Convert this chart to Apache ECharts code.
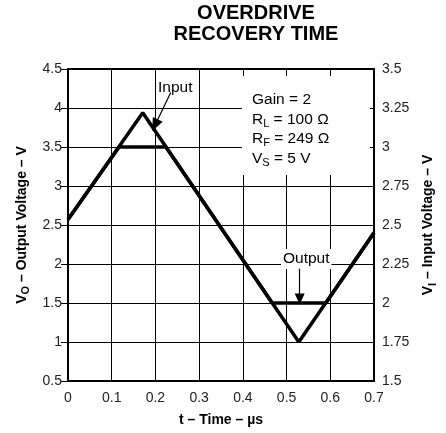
<!DOCTYPE html>
<html>
<head>
<meta charset="utf-8">
<script src="https://cdn.jsdelivr.net/npm/echarts@6/dist/echarts.min.js"></script>
<style>
  html, body { margin: 0; padding: 0; background: #fff; }
  #chart { width: 446px; height: 433px; }
</style>
</head>
<body>
<div id="chart"></div>
<script>
// data
var timeTicks = [0, 0.1, 0.2, 0.3, 0.4, 0.5, 0.6, 0.7];
// output voltage (left axis, V) vs time (us)
var outputT = [0, 0.117, 0.224, 0.467, 0.59, 0.7];
var outputV = [2.57, 3.5, 3.5, 1.5, 1.5, 2.4];
// input voltage (right axis, V) vs time (us)
var inputT = [0, 0.171, 0.528, 0.7];
var inputV = [2.535, 3.22, 1.75, 2.45];

var font = "Liberation Sans, Arial, sans-serif";

function pairs(xs, ys) {
  return xs.map(function (x, i) { return [x, ys[i]]; });
}

// rich styles for subscripts
var subRich = {
  b: { fontWeight: "bold", fontSize: 14, fontFamily: font, color: "#000" },
  s: { fontWeight: "bold", fontSize: 11, fontFamily: font, color: "#000", padding: [8, 0, 0, 0] }
};
var plainRich = {
  n: { fontSize: 15.5, fontFamily: font, color: "#000", lineHeight: 19.5 },
  s: { fontSize: 11, fontFamily: font, color: "#000", padding: [8, 0, 0, 0], lineHeight: 19.5 }
};

var myChart = echarts.init(document.getElementById("chart"));
var option = {
  animation: false,
  backgroundColor: "#fff",
  grid: { left: 68, right: 68, top: 69, bottom: 52, show: true, borderColor: "#000", borderWidth: 2 },
  xAxis: [
    {
      // labels, name, bottom ticks
      type: "value", min: 0, max: 0.7, interval: 0.1, position: "bottom", z: 4,
      name: "t – Time – µs", nameLocation: "middle", nameGap: 32,
      nameTextStyle: { fontWeight: "bold", fontSize: 14, fontFamily: font, color: "#000" },
      axisLine: { show: true, lineStyle: { color: "#000", width: 2 } },
      axisTick: { show: true, inside: true, length: 7, lineStyle: { color: "#000" } },
      axisLabel: { fontSize: 14, fontFamily: font, color: "#222", margin: 10,
        formatter: function (v) { var r = Math.round(v * 10) / 10; return timeTicks.indexOf(r) >= 0 ? String(r) : ""; } },
      splitLine: { show: false }
    },
    {
      // top ticks
      type: "value", min: 0, max: 0.7, interval: 0.1, position: "top", z: 4,
      axisLine: { show: true, lineStyle: { color: "#000", width: 2 } },
      axisTick: { show: true, inside: true, length: 7, lineStyle: { color: "#000" } },
      axisLabel: { show: false },
      splitLine: { show: false }
    },
    {
      // grid lines only
      type: "value", min: 0, max: 0.7, interval: 0.1, position: "bottom", z: 0,
      axisLine: { show: false }, axisTick: { show: false }, axisLabel: { show: false },
      splitLine: { show: true, lineStyle: { color: "#000", width: 1 } }
    }
  ],
  yAxis: [
    {
      type: "value", min: 0.5, max: 4.5, interval: 0.5, position: "left", z: 4,
      name: "{b|V}{s|O}{b| – Output Voltage – V}", nameLocation: "middle", nameGap: 33, nameRotate: 90,
      nameTextStyle: { rich: subRich },
      axisLine: { show: true, lineStyle: { color: "#000", width: 2 } },
      axisTick: { show: true, inside: true, length: 7, lineStyle: { color: "#000" } },
      axisLabel: { fontSize: 14, fontFamily: font, color: "#222", margin: 6 },
      splitLine: { show: false }
    },
    {
      type: "value", min: 1.5, max: 3.5, interval: 0.25, position: "right", z: 4,
      name: "{b|V}{s|I}{b| – Input Voltage – V}", nameLocation: "middle", nameGap: 45, nameRotate: 90,
      nameTextStyle: { rich: subRich },
      axisLine: { show: true, lineStyle: { color: "#000", width: 2 } },
      axisTick: { show: true, inside: true, length: 7, lineStyle: { color: "#000" } },
      axisLabel: { fontSize: 14, fontFamily: font, color: "#222", margin: 8 },
      splitLine: { show: false }
    },
    {
      type: "value", min: 0.5, max: 4.5, interval: 0.5, position: "left", z: 0,
      axisLine: { show: false }, axisTick: { show: false }, axisLabel: { show: false },
      splitLine: { show: true, lineStyle: { color: "#000", width: 1 } }
    }
  ],
  graphic: [
    {
      type: "text", x: 256, y: 3, z: 5,
      style: { text: "OVERDRIVE\nRECOVERY TIME", fontFamily: font, fontWeight: "bold", fontSize: 20,
        fill: "#000", align: "center", verticalAlign: "top", lineHeight: 21 }
    },
    // white box behind the conditions
    { type: "rect", z: 1, shape: { x: 242, y: 70, width: 128, height: 105 }, style: { fill: "#fff" } },
    {
      type: "text", left: 252, top: 92, z: 5,
      style: {
        text: "{n|Gain = 2}\n{n|R}{s|L}{n| = 100 Ω}\n{n|R}{s|F}{n| = 249 Ω}\n{n|V}{s|S}{n| = 5 V}",
        rich: plainRich
      }
    },
    {
      type: "text", left: 156, top: 78, z: 1,
      style: { text: "Input", fontFamily: font, fontSize: 15.5, fill: "#000", backgroundColor: "#fff", padding: [2, 2, 4, 2] }
    },
    {
      type: "text", left: 281, top: 249, z: 1,
      style: { text: "Output", fontFamily: font, fontSize: 15.5, fill: "#000", backgroundColor: "#fff", padding: [2, 2, 2, 2] }
    }
  ],
  series: [
    {
      name: "Output", type: "line", xAxisIndex: 0, yAxisIndex: 0, z: 3,
      data: pairs(outputT, outputV), showSymbol: false,
      lineStyle: { color: "#000", width: 3.5 },
      markLine: {
        silent: true, symbol: ["none", "triangle"], label: { show: false },
        lineStyle: { color: "#000", width: 1.2, type: "solid" },
        data: [
          [{ coord: [0.235, 4.2] }, { coord: [0.199, 3.78], symbolSize: [11, 13] }],
          [{ coord: [0.530, 1.94] }, { coord: [0.530, 1.55], symbolSize: [10, 11] }]
        ]
      }
    },
    {
      name: "Input", type: "line", xAxisIndex: 0, yAxisIndex: 1, z: 3,
      data: pairs(inputT, inputV), showSymbol: false,
      lineStyle: { color: "#000", width: 3.5 }
    }
  ]
};
myChart.setOption(option);
</script>
</body>
</html>
